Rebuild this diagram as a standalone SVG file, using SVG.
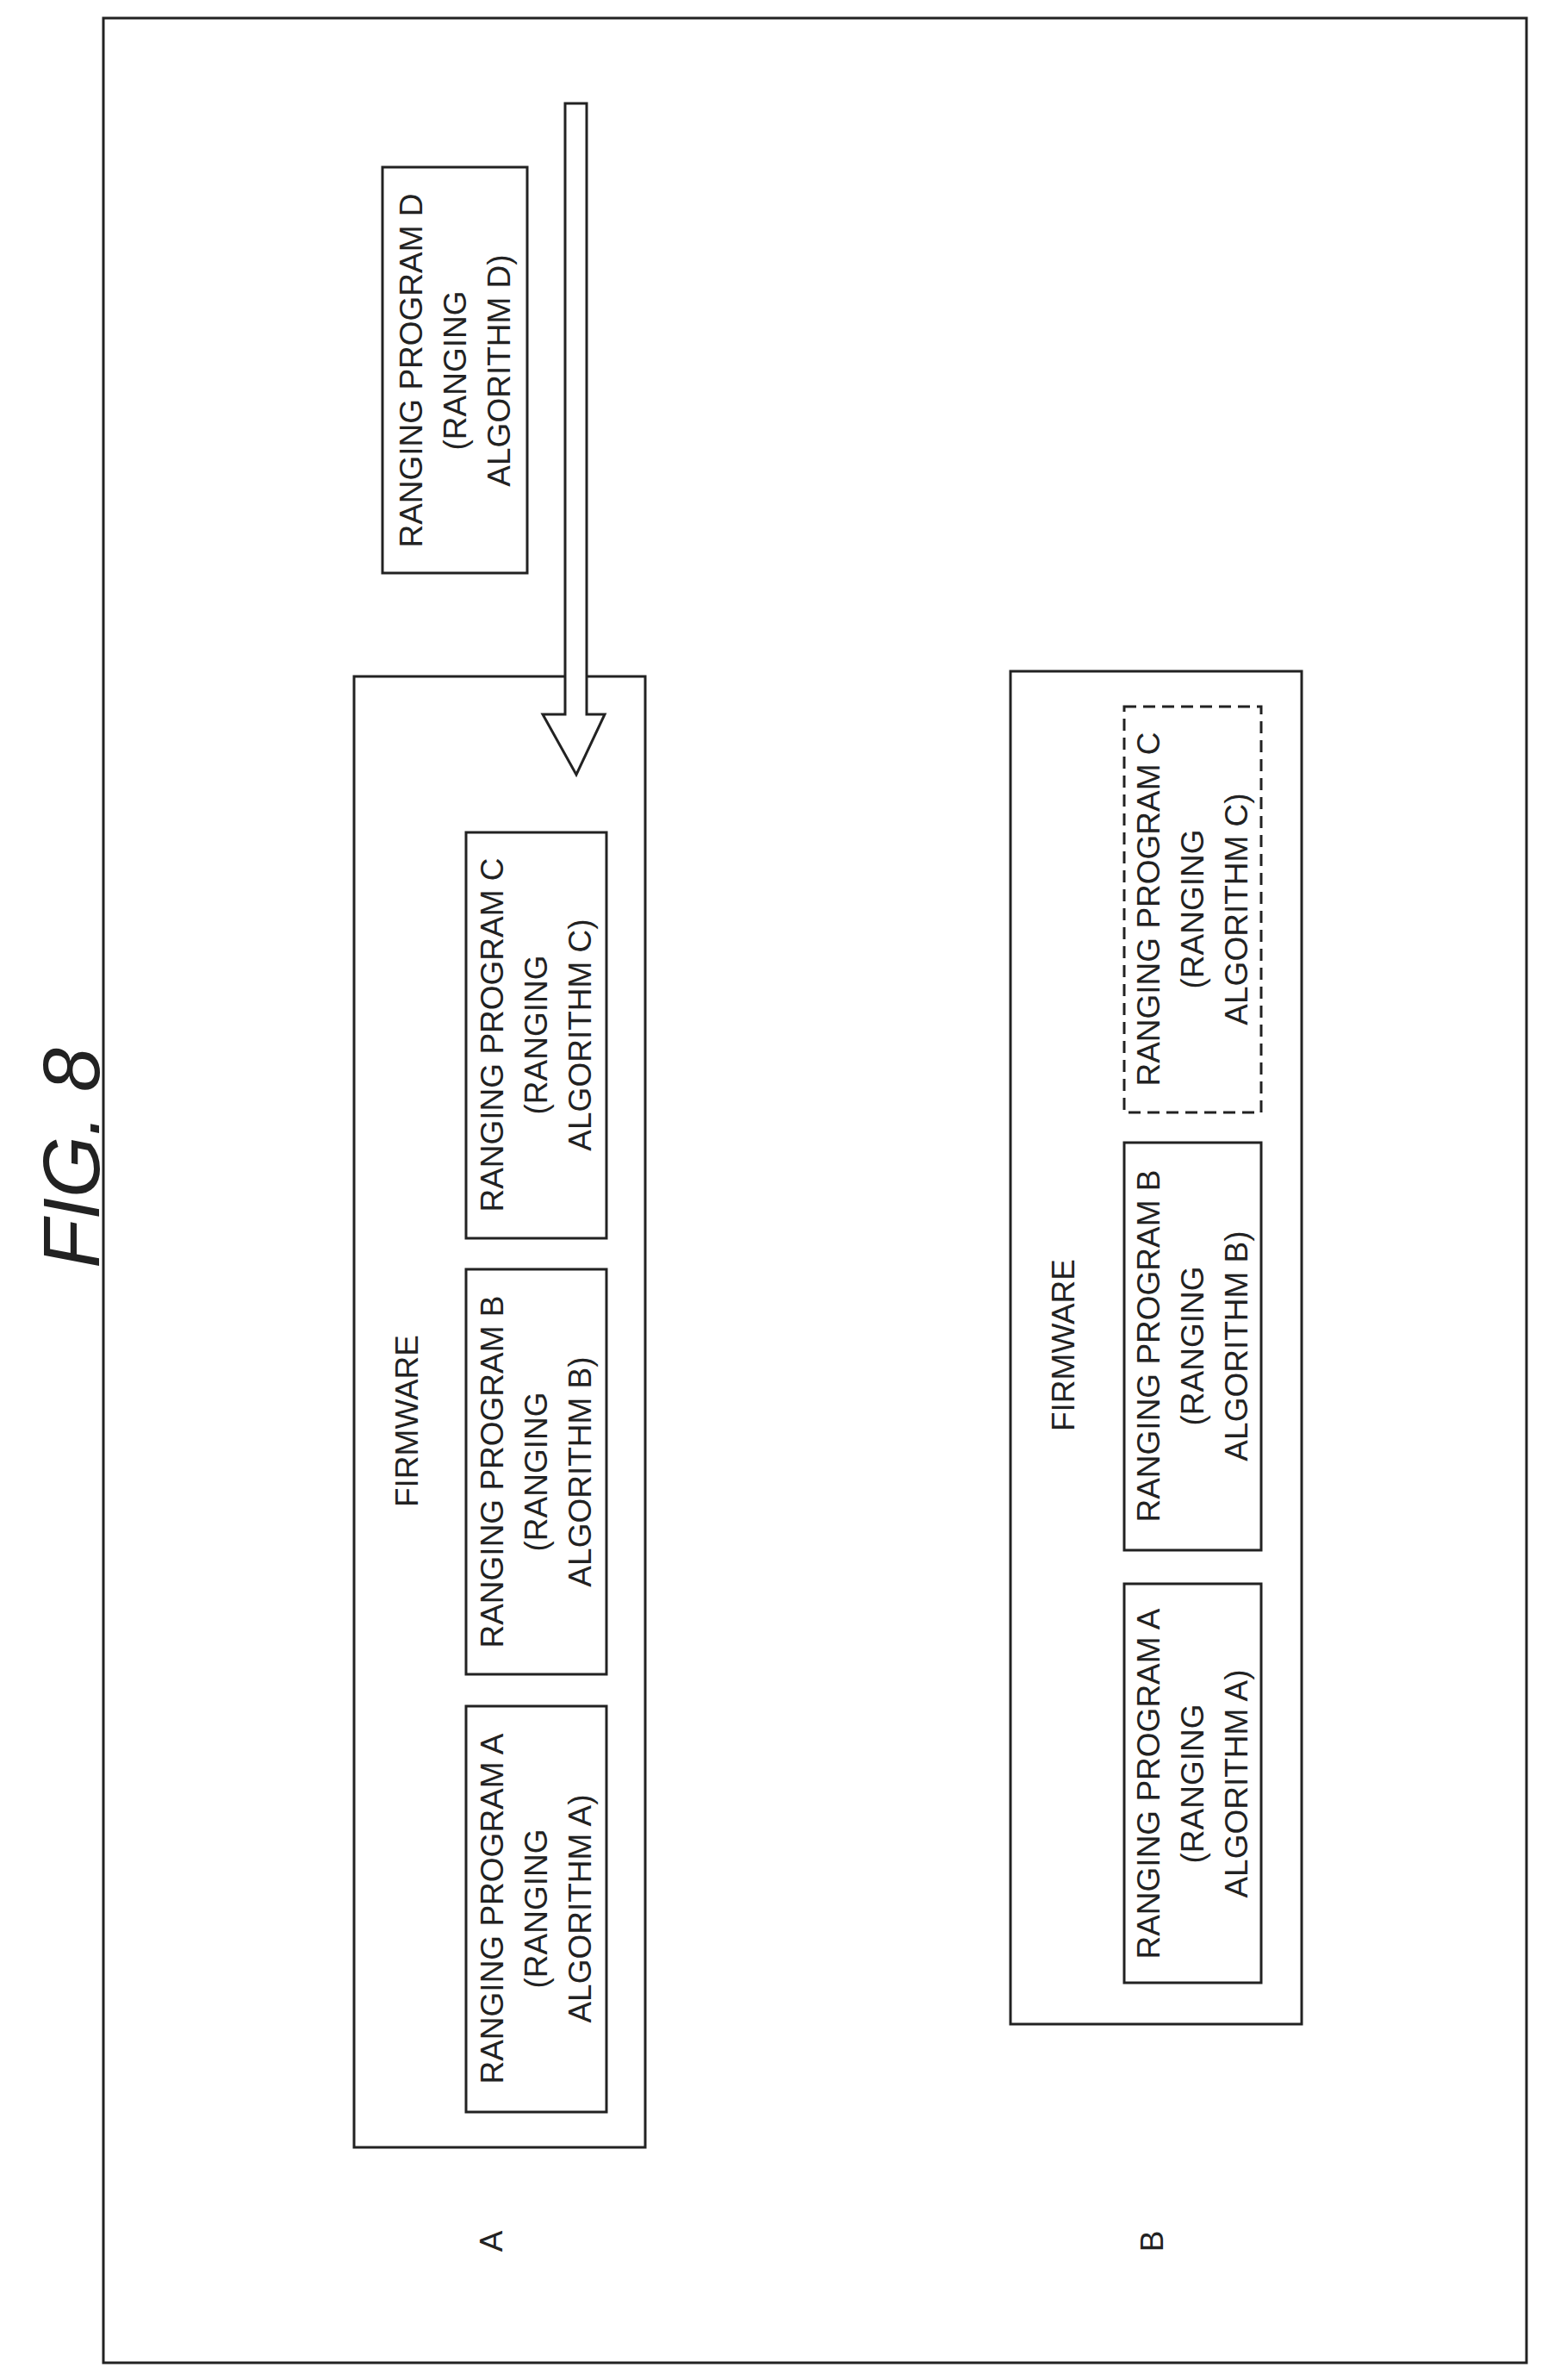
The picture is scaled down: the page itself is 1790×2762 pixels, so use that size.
<svg xmlns="http://www.w3.org/2000/svg" width="1790" height="2762" viewBox="0 0 1790 2762">
<style>
.b{fill:#fff;stroke:#222;stroke-width:3}
.d{fill:#fff;stroke:#222;stroke-width:3;stroke-dasharray:14 8}
text{font-family:"Liberation Sans",Arial,sans-serif;font-size:37px;fill:#222;text-anchor:middle}
</style>
<rect width="1790" height="2762" fill="#fff"/>
<rect class="b" x="120" y="21" width="1652" height="2721"/>
<text transform="translate(115,1344) rotate(-90)" style="font-size:92px;font-style:italic">FIG. 8</text>
<g id="firmwareA">
<rect class="b" x="411" y="785" width="338" height="1707"/>
<text transform="translate(485,1649) rotate(-90)">FIRMWARE</text>
</g>
<g id="progA_A">
<rect class="b" x="541" y="1980" width="163" height="471"/>
<g transform="translate(622,2215) rotate(-90)"><text y="-38">RANGING PROGRAM A</text><text y="13">(RANGING</text><text y="64">ALGORITHM A)</text></g>
</g>
<g id="progA_B">
<rect class="b" x="541" y="1473" width="163" height="470"/>
<g transform="translate(622,1708) rotate(-90)"><text y="-38">RANGING PROGRAM B</text><text y="13">(RANGING</text><text y="64">ALGORITHM B)</text></g>
</g>
<g id="progA_C">
<rect class="b" x="541" y="966" width="163" height="471"/>
<g transform="translate(622,1201) rotate(-90)"><text y="-38">RANGING PROGRAM C</text><text y="13">(RANGING</text><text y="64">ALGORITHM C)</text></g>
</g>
<g id="progD">
<rect class="b" x="444" y="194" width="168" height="471"/>
<g transform="translate(528,430) rotate(-90)"><text y="-38">RANGING PROGRAM D</text><text y="13">(RANGING</text><text y="64">ALGORITHM D)</text></g>
</g>
<g id="connectors">
<polygon class="b" points="656,120 681,120 681,829 702,829 669,899 630,829 656,829"/>
</g>
<g id="firmwareB">
<rect class="b" x="1173" y="779" width="338" height="1570"/>
<text transform="translate(1247,1561) rotate(-90)">FIRMWARE</text>
</g>
<g id="progB_A">
<rect class="b" x="1305" y="1838" width="159" height="463"/>
<g transform="translate(1384,2070) rotate(-90)"><text y="-38">RANGING PROGRAM A</text><text y="13">(RANGING</text><text y="64">ALGORITHM A)</text></g>
</g>
<g id="progB_B">
<rect class="b" x="1305" y="1326" width="159" height="473"/>
<g transform="translate(1384,1562) rotate(-90)"><text y="-38">RANGING PROGRAM B</text><text y="13">(RANGING</text><text y="64">ALGORITHM B)</text></g>
</g>
<g id="progB_C">
<rect class="d" x="1305" y="820" width="159" height="471"/>
<g transform="translate(1384,1055) rotate(-90)"><text y="-38">RANGING PROGRAM C</text><text y="13">(RANGING</text><text y="64">ALGORITHM C)</text></g>
</g>
<text transform="translate(583,2601) rotate(-90)">A</text>
<text transform="translate(1350,2601) rotate(-90)">B</text>
</svg>
